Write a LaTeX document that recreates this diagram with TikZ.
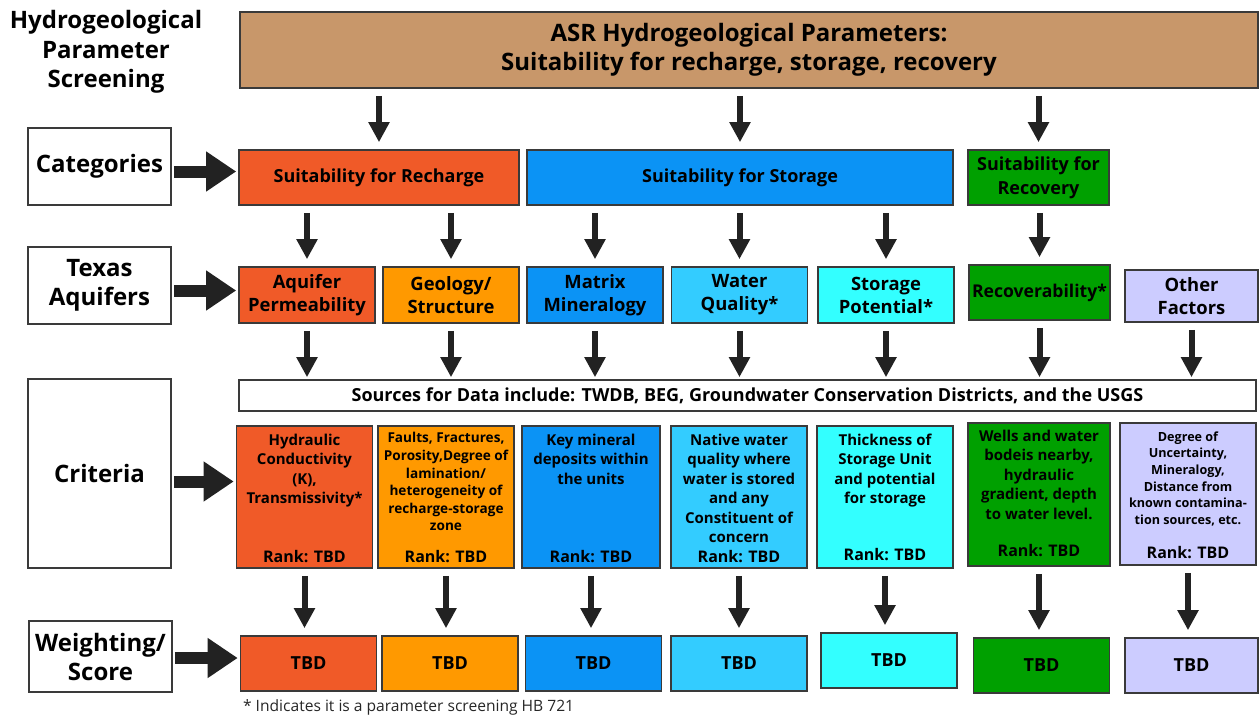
\documentclass[tikz,border=0pt]{standalone}
\usepackage{fontspec}
\setmainfont{Open Sans}
\usetikzlibrary{positioning,calc,arrows.meta}

\definecolor{asrtan}{HTML}{C8976A}
\definecolor{recharge}{HTML}{F05A28}
\definecolor{geoorange}{HTML}{FF9900}
\definecolor{storblue}{HTML}{0B93F5}
\definecolor{qualblue}{HTML}{33CCFF}
\definecolor{potcyan}{HTML}{33FFFF}
\definecolor{recgreen}{HTML}{00A000}
\definecolor{otherlav}{HTML}{CCCCFF}
\definecolor{edgegray}{HTML}{3A3A3A}
\definecolor{arrowgray}{HTML}{222222}

\begin{document}
\begin{tikzpicture}[x=0.5pt, y=-0.5pt,
    box/.style = {draw=edgegray, line width=0.8pt, inner sep=0pt, align=center},
    side/.style = {box, fill=white, minimum width=71.5pt, font=\fontsize{12}{14.5}\selectfont\bfseries},
    cat/.style = {box, minimum height=27.5pt, font=\fontsize{9}{12}\selectfont\bfseries},
    param/.style = {box, minimum width=68pt, minimum height=28pt, font=\fontsize{9.2}{11.5}\selectfont\bfseries},
    crit/.style = {box, minimum width=68pt, minimum height=71pt},
    crittext/.style = {inner sep=0pt, align=center, font=\fontsize{7.5}{9.75}\selectfont\bfseries},
    rank/.style = {inner sep=0pt, font=\fontsize{8}{9.75}\selectfont\bfseries},
    score/.style = {box, minimum width=68pt, minimum height=27.5pt, font=\fontsize{9}{10}\selectfont\bfseries},
    down/.style = {draw=arrowgray, line width=3pt, -{Triangle[length=10pt,width=10pt]}, shorten <=3.5pt, shorten >=3.5pt},
    fat/.style = {draw=arrowgray, line width=6pt, -{Triangle[length=15pt,width=19pt]}, shorten <=1pt, shorten >=1pt}]
\useasboundingbox (0,0) rectangle (1259,719);

% heading and top box
\node[align=center, font=\fontsize{12}{14.75}\selectfont\bfseries] (heading) at (106,52) {Hydrogeological\\Parameter\\Screening};
\node[box, fill=asrtan, minimum width=509pt, minimum height=38pt, font=\fontsize{12}{14.5}\selectfont\bfseries] (asr) at (749,50) {ASR Hydrogeological Parameters:\\Suitability for recharge, storage, recovery};

% left labels
\node[side, minimum height=38.5pt] (categories) at (99.5,166.5) {Categories};
\node[side, minimum height=38.5pt] (aquifers) at (99.5,285.5) {Texas\\Aquifers};
\node[side, minimum height=94.5pt] (criteria) at (99.5,473.5) {Criteria};
\node[side, minimum height=35.5pt] (weighting) at (100.5,656.5) {Weighting/\\Score};

% categories
\node[cat, fill=recharge, minimum width=140pt] (recharge) at (379,177.5) {Suitability for Recharge};
\node[cat, fill=storblue, minimum width=213pt] (storage) at (740,177.5) {Suitability for Storage};
\node[cat, fill=recgreen, minimum width=70.5pt] (recovery) at (1038.5,177.5) {Suitability for\\Recovery};

% parameters
\node[param, fill=recharge] (perm) at (307,295) {Aquifer\\Permeability};
\node[param, fill=geoorange] (geo) at (451,295) {Geology/\\Structure};
\node[param, fill=storblue] (matrix) at (595,295) {Matrix\\Mineralogy};
\node[param, fill=qualblue] (quality) at (739.5,295) {Water\\Quality*};
\node[param, fill=potcyan] (potential) at (886,295) {Storage\\Potential*};
\node[param, fill=recgreen, minimum width=70.5pt, minimum height=27.5pt, font=\fontsize{8.8}{11.5}\selectfont\bfseries] (recover) at (1039.5,292.5) {Recoverability*};
\node[param, fill=otherlav, minimum width=66.5pt, minimum height=26pt] (other) at (1191.5,296) {Other\\Factors};

\node[box, fill=white, minimum width=508.5pt, minimum height=15.5pt, font=\fontsize{9}{10}\selectfont\bfseries] (sources) at (747.5,395.5) {Sources for Data include: TWDB, BEG, Groundwater Conservation Districts, and the USGS};

% criteria
\node[crit, fill=recharge] (hydraulic) at (304.5,497) {};
\node[crit, fill=geoorange] (faults) at (446,497) {};
\node[crit, fill=storblue, minimum width=69pt] (mineral) at (591,497) {};
\node[crit, fill=qualblue] (native) at (739,497) {};
\node[crit, fill=potcyan] (thickness) at (885,497) {};
\node[crit, fill=recgreen, minimum width=71pt, minimum height=71.5pt] (wells) at (1039,494.5) {};
\node[crit, fill=otherlav] (degree) at (1188,494) {};

\node[crittext, below=4pt of hydraulic.north] {Hydraulic\\Conductivity\\(K),\\Transmissivity*};
\node[crittext, font=\fontsize{6.8}{8.8}\selectfont\bfseries, below=3.5pt of faults.north] {Faults, Fractures,\\Porosity,Degree of\\lamination/\\heterogeneity of\\recharge-storage\\zone};
\node[crittext, below=4pt of mineral.north] {Key mineral\\deposits within\\the units};
\node[crittext, below=4pt of native.north] {Native water\\quality where\\water is stored\\and any\\Constituent of\\concern};
\node[crittext, below=4pt of thickness.north] {Thickness of\\Storage Unit\\and potential\\for storage};
\node[crittext, below=3.5pt of wells.north] {Wells and water\\bodeis nearby,\\hydraulic\\gradient, depth\\to water level.};
\node[crittext, font=\fontsize{6.3}{8.3}\selectfont\bfseries, below=4.5pt of degree.north] {Degree of\\Uncertainty,\\Mineralogy,\\Distance from\\known contamina-\\tion sources, etc.};

\node[rank, above=3pt of hydraulic.south] {Rank: TBD};
\node[rank, above=3pt of faults.south] {Rank: TBD};
\node[rank, above=3pt of mineral.south] {Rank: TBD};
\node[rank, above=3pt of native.south] {Rank: TBD};
\node[rank, above=4pt of thickness.south] {Rank: TBD};
\node[rank, above=5pt of wells.south] {Rank: TBD};
\node[rank, above=3.5pt of degree.south] {Rank: TBD};

% weighting / score
\node[score, fill=recharge] (s1) at (308.5,663.5) {TBD};
\node[score, fill=geoorange] (s2) at (450,663.5) {TBD};
\node[score, fill=storblue] (s3) at (593.5,663.5) {TBD};
\node[score, fill=qualblue] (s4) at (739,663.5) {TBD};
\node[score, fill=potcyan] (s5) at (889,660.5) {TBD};
\node[score, fill=recgreen] (s6) at (1041.5,665.5) {TBD};
\node[score, fill=otherlav, minimum width=66.5pt] (s7) at (1191.5,665.5) {TBD};

\node[anchor=west, text=black!85, font=\fontsize{7.8}{9}\selectfont] (note) at (236,707) {* Indicates it is a parameter screening HB 721};

% arrows from the top box
\draw[down] (recharge.north |- asr.south) -- (recharge.north);
\draw[down] (storage.north |- asr.south) -- (storage.north);
\draw[down] (recovery.north |- asr.south) -- (recovery.north);

% categories to parameters
\draw[down] (perm.north |- recharge.south) -- (perm.north);
\draw[down] (geo.north |- recharge.south) -- (geo.north);
\draw[down] (matrix.north |- storage.south) -- (matrix.north);
\draw[down] (quality.north |- storage.south) -- (quality.north);
\draw[down] (potential.north |- storage.south) -- (potential.north);
\draw[down] (recover.north |- recovery.south) -- (recover.north);

% parameters to sources
\draw[down, shorten >=1pt] (perm.south) -- (perm.south |- sources.north);
\draw[down, shorten >=1pt] (geo.south) -- (geo.south |- sources.north);
\draw[down, shorten >=1pt] (matrix.south) -- (matrix.south |- sources.north);
\draw[down, shorten >=1pt] (quality.south) -- (quality.south |- sources.north);
\draw[down, shorten >=1pt] (potential.south) -- (potential.south |- sources.north);
\draw[down, shorten >=1pt] (recover.south) -- (recover.south |- sources.north);
\draw[down, shorten >=1pt] (other.south) -- (other.south |- sources.north);

% criteria to scores
\draw[down] (hydraulic.south) -- (hydraulic.south |- s1.north);
\draw[down] (faults.south) -- (faults.south |- s2.north);
\draw[down] (mineral.south) -- (mineral.south |- s3.north);
\draw[down] (native.south) -- (native.south |- s4.north);
\draw[down] (thickness.south) -- (thickness.south |- s5.north);
\draw[down] (wells.south) -- (wells.south |- s6.north);
\draw[down] (degree.south) -- (degree.south |- s7.north);

% side arrows
\draw[fat] ($(categories.east)+(0,5)$) -- ($(categories.east -| recharge.west)+(0,5)$);
\draw[fat] ($(aquifers.east)+(0,5)$) -- ($(aquifers.east -| perm.west)+(0,5)$);
\draw[fat] ($(criteria.east)+(0,8)$) -- ($(criteria.east -| hydraulic.west)+(0,8)$);
\draw[fat] ($(weighting.east)+(0,1.5)$) -- ($(weighting.east -| s1.west)+(0,1.5)$);
\end{tikzpicture}
\end{document}
